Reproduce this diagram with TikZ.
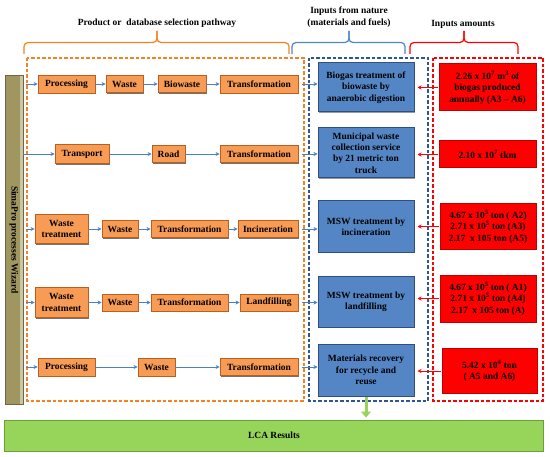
\documentclass[tikz,border=0pt]{standalone}
\usepackage{fontspec}
\setmainfont{Liberation Serif}
\usetikzlibrary{arrows.meta,shadows}
\definecolor{orfill}{HTML}{F79B55}
\definecolor{ordraw}{HTML}{B8601E}
\definecolor{orline}{HTML}{F5821F}
\definecolor{blfill}{HTML}{5486C6}
\definecolor{bldraw}{HTML}{2F4F7F}
\definecolor{blline}{HTML}{2E5597}
\definecolor{blbrace}{HTML}{4F86C6}
\definecolor{rdfill}{HTML}{FF0000}
\definecolor{rddraw}{HTML}{C00000}
\definecolor{grfill}{HTML}{96D45A}
\definecolor{grdraw}{HTML}{6E9E3A}
\definecolor{olfill}{HTML}{A0965F}
\definecolor{oldraw}{HTML}{6E6640}
\definecolor{arrblue}{HTML}{4A80C8}
\begin{document}
\begin{tikzpicture}[x=1bp,y=-1bp,
  txt/.style={font=\bfseries\fontsize{9.5}{11.5}\selectfont, align=center},
  obox/.style={txt, draw=ordraw, fill=orfill, line width=0.8bp, inner sep=1bp,
    drop shadow={shadow xshift=1.2bp, shadow yshift=-1.2bp, fill=black, opacity=0.55}},
  bbox/.style={txt, draw=bldraw, fill=blfill, line width=1bp, inner sep=1bp,
    drop shadow={shadow xshift=1.2bp, shadow yshift=-1.2bp, fill=black, opacity=0.4}},
  rbox/.style={txt, draw=rddraw, fill=rdfill, line width=1bp, inner sep=1bp},
  dbox/.style={dash pattern=on 3.5bp off 2bp, line width=1.3bp},
  barr/.style={draw=arrblue, line width=0.9bp, -{Stealth[length=4bp,width=4bp]}},
  rarr/.style={draw=red, line width=0.9bp, -{Stealth[length=4bp,width=4bp]}},
  garr/.style={draw=grfill, line width=3bp, -{Triangle[length=6bp,width=10bp]}},
  brc/.style={rounded corners=4bp, line width=1.2bp}
]
\useasboundingbox (0,0) rectangle (550,457);

% headers
\node[txt] (h1) at (157,23) {Product or\ \ database selection pathway};
\node[txt] (h2) at (349,17) {Inputs from nature\\(materials and fuels)};
\node[txt] (h3) at (463,24) {Inputs amounts};

% braces
\draw[brc, draw=orline] (24,54) -- (24,42.5) -- (157,42.5) -- (157,31);
\draw[brc, draw=orline] (289,54) -- (289,42.5) -- (157,42.5) -- (157,31);
\draw[brc, draw=blbrace] (292,54) -- (292,42.5) -- (349,42.5) -- (349,31);
\draw[brc, draw=blbrace] (405,54) -- (405,42.5) -- (349,42.5) -- (349,31);
\draw[brc, draw=red] (410,54) -- (410,42.5) -- (464,42.5) -- (464,31);
\draw[brc, draw=red] (518,54) -- (518,42.5) -- (464,42.5) -- (464,31);

% dashed frames
\draw[dbox, draw=orline] (27,58) rectangle (304,401);
\draw[dbox, draw=blline] (309,58) rectangle (428,401);
\draw[dbox, draw=red] (433,58) rectangle (543,401);

% SimaPro bar
\fill[olfill] (5,75) rectangle (23,404);
\fill[olfill!55!white] (20,75) rectangle (23,404);
\draw[oldraw, line width=0.8bp] (5,75) rectangle (23,404);
\node[txt, rotate=-90] (wiz) at (14,240) {SimaPro processes Wizard};

% Row 1
\node[obox, minimum width=57bp, minimum height=18bp] (p1) at (66.5,84) {Processing};
\node[obox, minimum width=37bp, minimum height=17bp] (w1) at (124.5,84) {Waste};
\node[obox, minimum width=48bp, minimum height=17bp] (bw1) at (182,84) {Biowaste};
\node[obox, minimum width=78bp, minimum height=18bp] (t1) at (259,84) {Transformation};
\coordinate (s1) at (26,84);
\draw[barr] (s1) -- (p1);
\draw[barr] (p1) -- (w1);
\draw[barr] (w1) -- (bw1);
\draw[barr] (bw1) -- (t1);

% Row 2
\node[obox, minimum width=54bp, minimum height=19bp] (tr2) at (82,154) {Transport};
\node[obox, minimum width=33bp, minimum height=17bp] (rd2) at (168.5,154) {Road};
\node[obox, minimum width=78bp, minimum height=17bp] (t2) at (259,154) {Transformation};
\coordinate (s2) at (23,154);
\draw[barr] (s2) -- (tr2);
\draw[barr] (tr2) -- (rd2);
\draw[barr] (rd2) -- (t2);

% Row 3
\node[obox, minimum width=53bp, minimum height=29bp] (wt3) at (61.5,229) {Waste\\treatment};
\node[obox, minimum width=36bp, minimum height=17bp] (w3) at (120,229) {Waste};
\node[obox, minimum width=77bp, minimum height=17bp] (tf3) at (189.5,229) {Transformation};
\node[obox, minimum width=60bp, minimum height=17bp] (t3) at (268,229) {Incineration};
\coordinate (s3) at (26,229);
\draw[barr] (s3) -- (wt3);
\draw[barr] (wt3) -- (w3);
\draw[barr] (w3) -- (tf3);
\draw[barr] (tf3) -- (t3);

% Row 4
\node[obox, minimum width=53bp, minimum height=30bp] (wt4) at (61.5,302.5) {Waste\\treatment};
\node[obox, minimum width=36bp, minimum height=17bp] (w4) at (120,302.5) {Waste};
\node[obox, minimum width=77bp, minimum height=17bp] (tf4) at (189.5,302.5) {Transformation};
\node[obox, minimum width=58bp, minimum height=17bp] (t4) at (269,302.5) {Landfilling};
\coordinate (s4) at (26,302.5);
\draw[barr] (s4) -- (wt4);
\draw[barr] (wt4) -- (w4);
\draw[barr] (w4) -- (tf4);
\draw[barr] (tf4) -- (t4);

% Row 5
\node[obox, minimum width=57bp, minimum height=18bp] (p5) at (66.5,367) {Processing};
\node[obox, minimum width=37bp, minimum height=18bp] (w5) at (156.5,367) {Waste};
\node[obox, minimum width=78bp, minimum height=17bp] (t5) at (259,367) {Transformation};
\coordinate (s5) at (26,367);
\draw[barr] (s5) -- (p5);
\draw[barr] (p5) -- (w5);
\draw[barr] (w5) -- (t5);

% Blue boxes
\node[bbox, minimum width=96bp, minimum height=49bp] (b1) at (366,87.5) {Biogas treatment of\\biowaste by\\anaerobic digestion};
\node[bbox, minimum width=96bp, minimum height=50bp] (b2) at (366,153) {Municipal waste\\collection service\\by 21 metric ton\\truck};
\node[bbox, minimum width=96bp, minimum height=51bp] (b3) at (366,226.5) {MSW treatment by\\incineration};
\node[bbox, minimum width=96bp, minimum height=51bp] (b4) at (366,301.5) {MSW treatment by\\landfilling};
\node[bbox, minimum width=96bp, minimum height=52bp] (b5) at (366,370) {Materials recovery\\for recycle and\\reuse};

% Red boxes
\node[rbox, minimum width=97bp, minimum height=47bp] (r1) at (487.5,87.5) {2.26 x 10\textsuperscript{7} m\textsuperscript{3} of\\biogas produced\\annually (A3 -- A6)};
\node[rbox, minimum width=97bp, minimum height=27bp] (r2) at (487.5,154.5) {2.10 x 10\textsuperscript{7} tkm};
\node[rbox, minimum width=96bp, minimum height=46bp] (r3) at (488,226.5) {4.67 x 10\textsuperscript{5} ton ( A2)\\2.71 x 10\textsuperscript{5} ton (A3)\\2.17\ \ x 105 ton (A5)};
\node[rbox, minimum width=96bp, minimum height=47bp] (r4) at (488,298.5) {4.67 x 10\textsuperscript{5} ton ( A1)\\2.71 x 10\textsuperscript{5} ton (A4)\\2.17\ \ x 105 ton (A)};
\node[rbox, minimum width=95bp, minimum height=45bp] (r5) at (489.5,371) {5.42 x 10\textsuperscript{4} ton\\( A5 and A6)};

% orange -> blue arrows
\foreach \t/\b in {t1/b1,t2/b2,t3/b3,t4/b4,t5/b5}{
  \draw[barr, shorten <=3.5bp] (\t.east) -- (\t.east -| \b.west);
}
% red -> blue arrows
\foreach \r/\b in {r1/b1,r2/b2,r3/b3,r4/b4,r5/b5}{
  \draw[rarr, shorten <=1bp, shorten >=3bp] (\r.west) -- (\r.west -| \b.east);
}

% LCA results
\node[txt, draw=grdraw, fill=grfill, line width=1bp, minimum width=538bp, minimum height=31bp,
  drop shadow={shadow xshift=1.2bp, shadow yshift=-1.2bp, fill=black, opacity=0.3}] (lca) at (274,435.5) {LCA Results};
\draw[garr, shorten >=2bp] (b5.south) -- (b5.south |- lca.north);
\end{tikzpicture}
\end{document}
